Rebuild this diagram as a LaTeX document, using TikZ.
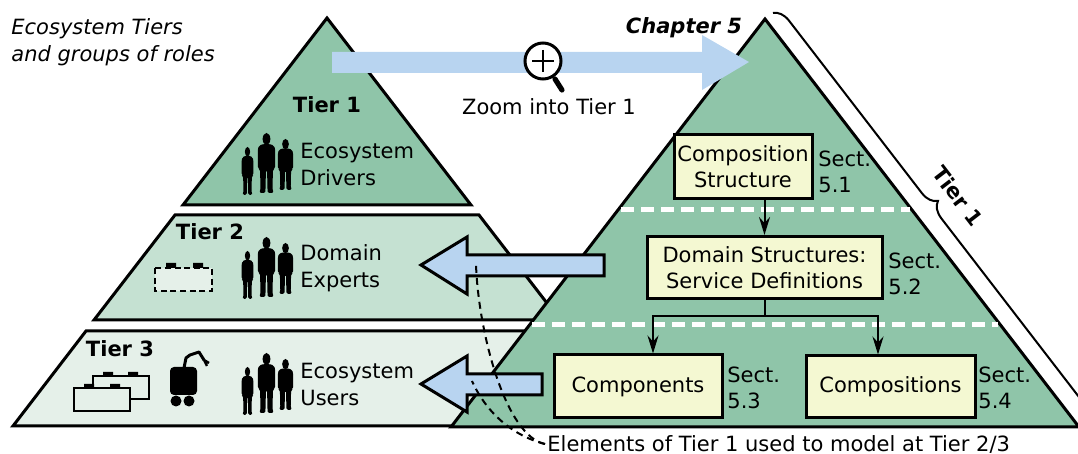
\documentclass[tikz,border=0pt]{standalone}
\usepackage{fontspec}
\setmainfont{DejaVu Sans}
\usetikzlibrary{arrows.meta,decorations.pathreplacing}

\definecolor{tierA}{RGB}{143,197,169}
\definecolor{tierB}{RGB}{197,225,210}
\definecolor{tierC}{RGB}{229,240,233}
\definecolor{boxfill}{RGB}{244,248,210}
\definecolor{zoomblue}{RGB}{184,212,240}

\tikzset{
  person/.pic={
    \fill (0,6) ellipse [x radius=4.2, y radius=6];
    \fill[rounded corners=0.8pt] (-3,11) -- (-8,12.5) -- (-9.5,16) -- (-9.5,35) -- (-7,36.5)
      -- (-6.5,57) -- (-8,60) -- (-1.2,60) -- (-0.6,37) -- (0.6,37) -- (1.2,60) -- (8,60)
      -- (6.5,57) -- (7,36.5) -- (9.5,35) -- (9.5,16) -- (8,12.5) -- (3,11) -- cycle;
  }
}
% three silhouettes; #1 is the head top of the tallest one
\newcommand\peoplegroup[1]{%
  \pic[xscale=0.62,yscale=0.8] at (247.5,#1+14) {person};
  \pic[xscale=0.92,yscale=1] at (266.5,#1) {person};
  \pic[xscale=0.8,yscale=0.85] at (285.5,#1+6) {person};
}

\begin{document}
\begin{tikzpicture}[x=0.5pt,y=-0.5pt,
  font=\fontsize{10.5}{13}\selectfont,
  tier/.style={draw=black,line width=1.5pt,line join=miter},
  secbox/.style={draw=black,line width=1.5pt,fill=boxfill,align=center,inner sep=0pt},
  sect/.style={align=left,inner sep=0pt,anchor=west},
  rolelabel/.style={align=left,inner sep=0pt,anchor=west,font=\fontsize{10.5}{13.5}\selectfont},
  tierlabel/.style={inner sep=0pt,font=\fontsize{10.5}{13}\selectfont\bfseries},
  flow/.style={line width=1pt,-{Stealth[length=9pt,width=5.5pt,inset=3pt]}},
  separator/.style={white,line width=2.5pt,dash pattern=on 6.5pt off 3.5pt},
  backarrow/.style={draw=black,line width=1.5pt,fill=zoomblue,line join=miter},
  hint/.style={line width=1pt,dash pattern=on 3.5pt off 2.5pt},
  brick/.style={draw=black,line width=1.2pt,fill=tierC}]
\useasboundingbox (0,0) rectangle (1078,454);

% left pyramid: three tiers
\draw[tier,fill=tierA] (327,18) -- (471,205) -- (183,205) -- cycle;
\draw[tier,fill=tierB] (175,215) -- (479,215) -- (560,320) -- (94,320) -- cycle;
\draw[tier,fill=tierC] (86,331) -- (568,331) -- (641,426) -- (13,426) -- cycle;

% right pyramid: tier 1 in detail
\draw[tier,fill=tierA] (765,19) -- (1079,427) -- (451,427) -- cycle;
\draw[separator] (621,210) -- (910,210);
\draw[separator] (532,325) -- (998,325);

% zoom arrow with magnifier
\fill[zoomblue] (332,52) -- (702,52) -- (702,35) -- (749,62) -- (702,90) -- (702,73) -- (332,73) -- cycle;
\draw[line width=1.5pt,fill=white] (543,61) circle [radius=18];
\draw[line width=0.9pt] (532,61) -- (554,61) (543,50) -- (543,72);
\draw[line width=2.6pt,line cap=round] (555,79) -- (562,90);
\node[inner sep=0pt] (zoomlbl) at (549,107) {Zoom into Tier 1};

% headings
\node[align=left,inner sep=0pt,anchor=west,font=\fontsize{10.5}{13.5}\selectfont\itshape] (heading) at (11,42.5) {Ecosystem Tiers\\and groups of roles};
\node[inner sep=0pt,font=\fontsize{10.5}{13}\selectfont\bfseries\itshape] (chapter) at (684,28) {Chapter 5};

% tier labels and roles
\node[tierlabel] (t1) at (327,104.5) {Tier 1};
\node[tierlabel] (t2) at (210,232) {Tier 2};
\node[tierlabel] (t3) at (120,349) {Tier 3};
\peoplegroup{133}
\peoplegroup{237}
\peoplegroup{353}
\node[rolelabel] (drivers) at (300,164) {Ecosystem\\Drivers};
\node[rolelabel] (experts) at (300,268.5) {Domain\\Experts};
\node[rolelabel] (users) at (300,384) {Ecosystem\\Users};

% tier 2: abstract building block
\draw[brick,dash pattern=on 3pt off 1.8pt] (155,268) rectangle (212,291);
\fill (166,263) rectangle (176,268) (193,263) rectangle (203,268);

% tier 3: building blocks and robot
\draw[brick] (93,376) rectangle (149,399);
\fill (103,372) rectangle (113,376) (128,372) rectangle (138,376);
\draw[brick] (74,388) rectangle (130,411);
\fill (84,384) rectangle (94,388) (110,384) rectangle (120,388);
\fill[rounded corners=2pt] (170,367) rectangle (197,395);
\fill (176,401) circle [radius=5.5] (189,401) circle [radius=5.5];
\draw[line width=1.5pt,line join=round] (184,368) -- (186,358) -- (190,355) -- (199,352) -- (204,360);
\draw[line width=1.2pt] (204,360) -- (207,366) (204,360) -- (209,363);

% sections of chapter 5
\node[secbox,minimum width=69pt,minimum height=32pt] (comp) at (743,167) {Composition\\Structure};
\node[secbox,minimum width=117.5pt,minimum height=31pt] (dom) at (764.5,267.5) {Domain Structures:\\Service Definitions};
\node[secbox,minimum width=84pt,minimum height=31.5pt] (cmp) at (638,386.5) {Components};
\node[secbox,minimum width=84.5pt,minimum height=31pt] (cps) at (890.5,387) {Compositions};
\node[sect] (s1) at (818,171.5) {Sect.\\5.1};
\node[sect] (s2) at (888,274) {Sect.\\5.2};
\node[sect] (s3) at (727,388) {Sect.\\5.3};
\node[sect] (s4) at (978,388) {Sect.\\5.4};
\draw[flow] (dom.north |- comp.south) -- (dom.north);
\draw[flow] (dom.south) -- ++(0,16) -| ([xshift=7.5pt]cmp.north);
\draw[flow] (dom.south) -- ++(0,16) -| ([xshift=-6.25pt]cps.north);

% brace along tier 1, running off the lower right edge
\begin{scope}
  \clip (0,0) rectangle (1078,454);
  \draw[line width=1pt,decorate,decoration={brace,amplitude=8pt,aspect=0.463}] (773,13) -- (1102,440);
\end{scope}
\node[tierlabel,rotate=-52.4] (bracelbl) at (958,196) {Tier 1};

% elements handed down to tiers 2 and 3
\draw[backarrow] (604,255) -- (467,255) -- (467,237) -- (421,265) -- (467,294) -- (467,276) -- (604,276) -- cycle;
\draw[backarrow] (542,374) -- (467,374) -- (467,356) -- (421,384) -- (467,412) -- (467,395) -- (542,395) -- cycle;
\coordinate (upperArrow) at (476,264);
\coordinate (lowerArrow) at (472,381);
\node[anchor=west,inner sep=1pt] (elements) at (545,444) {Elements of Tier 1 used to model at Tier 2/3};
\draw[hint] (elements.west) .. controls (505,436) and (478,330) .. (upperArrow);
\draw[hint] (elements.west) .. controls (510,435) and (485,410) .. (lowerArrow);
\end{tikzpicture}
\end{document}
